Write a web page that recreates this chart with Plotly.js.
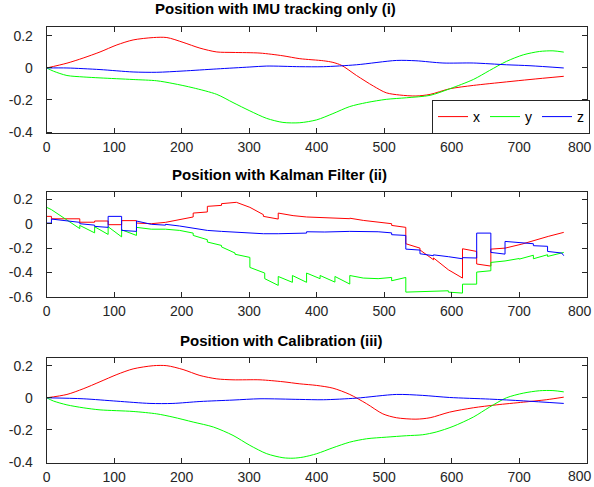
<!DOCTYPE html>
<html>
<head>
<meta charset="utf-8">
<script src="https://cdn.plot.ly/plotly-3.0.1.min.js"></script>
<style>html,body{margin:0;padding:0;background:#fff;}#chart{width:594px;height:487px;}</style>
</head>
<body>
<div id="chart"></div>
<script>
// ---------- Data ----------
const panelTitles = ["Position with IMU tracking only (i)", "Position with Kalman Filter (ii)", "Position with Calibration (iii)"];
const seriesNames = ["x", "y", "z"];
const xTickVals = [0, 100, 200, 300, 400, 500, 600, 700, 800];
const xTickText = ["0", "100", "200", "300", "400", "500", "600", "700", "800"];
const yTickVals1 = [-0.4, -0.2, 0, 0.2];
const yTickText1 = ["-0.4", "-0.2", "0", "0.2"];
const yTickVals2 = [-0.6, -0.4, -0.2, 0, 0.2];
const yTickText2 = ["-0.6", "-0.4", "-0.2", "0", "0.2"];
const yTickVals3 = [-0.4, -0.2, 0, 0.2];
const yTickText3 = ["-0.4", "-0.2", "0", "0.2"];

// (i) IMU tracking only
const imuX_t = [0,30,54,79,104,128,158,178,202,227,252,276,316,350,375,410,424,437,459,484,503,523,547,568,597,632,681,716,766];
const imuX_v = [0,0.03,0.062,0.10,0.144,0.175,0.19,0.19,0.16,0.124,0.10,0.097,0.093,0.076,0.058,0.045,0.035,0.016,-0.047,-0.113,-0.155,-0.169,-0.175,-0.165,-0.13,-0.109,-0.087,-0.072,-0.052];
const imuY_t = [0,10,30,54,79,128,163,187,217,252,276,301,326,350,375,400,424,449,474,503,533,568,597,632,656,681,706,730,750,766];
const imuY_v = [0,-0.02,-0.047,-0.056,-0.062,-0.072,-0.08,-0.097,-0.124,-0.165,-0.216,-0.268,-0.315,-0.34,-0.342,-0.324,-0.285,-0.241,-0.216,-0.196,-0.186,-0.171,-0.13,-0.072,-0.016,0.041,0.082,0.103,0.107,0.099];
const imuZ_t = [0,30,79,128,163,202,252,301,326,375,410,459,518,547,587,632,681,716,766];
const imuZ_v = [0,0,-0.01,-0.025,-0.027,-0.019,-0.006,0.006,0.012,0.008,0.008,0.02,0.047,0.045,0.031,0.031,0.02,0.014,0];

// (ii) Kalman filter
const kfX_t = [0,7,7,49,49,71,71,91,91,111,111,133,133,155,176,197,217,217,238,238,259,259,281,301,321,321,343,343,365,385,405,427,449,449,469,491,511,511,532,532,553,553,573,573,595,616,616,637,637,658,658,679,704,743,766];
const kfX_v = [0.06,0.06,0.04,0.04,0.012,0.012,0.022,0.022,-0.008,-0.008,0.025,0.025,0.005,0.0,0.011,0.035,0.055,0.087,0.096,0.142,0.15,0.164,0.175,0.134,0.074,0.06,0.038,0.087,0.066,0.055,0.052,0.046,0.041,0.045,0.027,0.014,0.0,-0.014,-0.03,-0.164,-0.2,-0.215,-0.295,-0.28,-0.377,-0.445,-0.205,-0.227,-0.33,-0.347,-0.208,-0.2,-0.167,-0.104,-0.071];
const kfY_t = [0,7,49,49,71,71,91,91,111,111,133,133,155,176,197,217,217,238,238,259,259,279,279,301,301,323,323,343,343,364,364,385,385,405,405,427,427,449,449,469,491,511,511,532,532,553,573,595,595,616,616,637,637,658,658,679,700,700,721,721,742,742,766];
const kfY_v = [0.134,0.115,-0.04,-0.014,-0.075,-0.025,-0.088,-0.025,-0.108,-0.05,-0.096,-0.03,-0.045,-0.045,-0.055,-0.077,-0.096,-0.131,-0.15,-0.178,-0.19,-0.24,-0.25,-0.276,-0.358,-0.404,-0.45,-0.505,-0.432,-0.48,-0.424,-0.48,-0.404,-0.45,-0.424,-0.478,-0.432,-0.494,-0.424,-0.445,-0.45,-0.44,-0.467,-0.44,-0.56,-0.556,-0.552,-0.549,-0.56,-0.568,-0.495,-0.495,-0.396,-0.385,-0.317,-0.305,-0.285,-0.29,-0.258,-0.287,-0.254,-0.268,-0.235];
const kfZ_t = [0,7,7,49,49,71,71,91,91,111,111,133,133,155,155,176,176,197,217,238,259,281,301,321,343,365,385,385,412,449,491,511,511,532,532,553,553,573,573,595,616,616,637,637,658,658,679,679,721,721,742,742,763,766];
const kfZ_v = [0.005,0.005,0.038,0.011,0.0,-0.012,-0.022,-0.03,0.06,0.06,-0.055,-0.063,0.022,0.0,-0.005,-0.012,-0.005,-0.019,-0.036,-0.055,-0.063,-0.071,-0.077,-0.082,-0.082,-0.077,-0.077,-0.066,-0.068,-0.063,-0.066,-0.075,-0.09,-0.096,-0.208,-0.216,-0.246,-0.262,-0.255,-0.27,-0.287,-0.278,-0.281,-0.077,-0.077,-0.235,-0.249,-0.145,-0.164,-0.18,-0.185,-0.227,-0.24,-0.262];

// (iii) Calibration
const calX_t = [0,30,54,79,104,128,158,178,202,227,252,276,316,350,375,400,424,449,474,498,518,547,568,597,632,666,706,740,766];
const calX_v = [0,0.021,0.056,0.10,0.145,0.18,0.2,0.2,0.176,0.139,0.118,0.112,0.112,0.1,0.087,0.077,0.06,0.021,-0.037,-0.1,-0.124,-0.133,-0.124,-0.089,-0.062,-0.044,-0.027,-0.012,0.004];
const calY_t = [0,10,30,54,79,128,163,187,217,247,276,301,326,350,365,380,400,424,449,474,503,533,557,577,602,632,656,681,706,730,750,766];
const calY_v = [0,-0.02,-0.044,-0.062,-0.075,-0.085,-0.1,-0.12,-0.151,-0.182,-0.234,-0.296,-0.348,-0.373,-0.376,-0.369,-0.348,-0.311,-0.276,-0.255,-0.245,-0.236,-0.23,-0.213,-0.178,-0.12,-0.058,0,0.029,0.044,0.045,0.037];
const calZ_t = [0,54,104,153,187,227,276,316,375,410,459,518,557,597,656,706,766];
const calZ_v = [0,-0.006,-0.021,-0.035,-0.035,-0.023,-0.014,-0.006,-0.01,-0.012,-0.002,0.021,0.015,0.002,-0.008,-0.019,-0.035];

// ---------- Styles ----------
const colors = ["#ff0000", "#00ff00", "#0000ff"];
const W = 594, H = 487;
const xDom = [46.7 / W, 586.7 / W];
const doms = [[1 - 133.3 / H, 1 - 27.3 / H], [1 - 297 / H, 1 - 192.3 / H], [1 - 462.7 / H, 1 - 358.3 / H]];
const yRanges = [[-0.408, 0.254], [-0.6, 0.257], [-0.404, 0.246]];

const panels = [
  [[imuX_t, imuX_v], [imuY_t, imuY_v], [imuZ_t, imuZ_v]],
  [[kfX_t, kfX_v], [kfY_t, kfY_v], [kfZ_t, kfZ_v]],
  [[calX_t, calX_v], [calY_t, calY_v], [calZ_t, calZ_v]]
];
const shapes = ["spline", "linear", "spline"];

const traces = [];
panels.forEach((p, i) => {
  p.forEach((s, j) => {
    traces.push({
      x: s[0], y: s[1], type: "scatter", mode: "lines",
      name: seriesNames[j],
      showlegend: i === 0,
      line: { color: colors[j], width: 1, shape: shapes[i], smoothing: 0.8 },
      xaxis: i === 0 ? "x" : "x" + (i + 1),
      yaxis: i === 0 ? "y" : "y" + (i + 1)
    });
  });
});

const fam = "Liberation Sans, Arial, sans-serif";
const font = { family: fam, size: 14, color: "#262626" };
// last x tick label (at the right edge) is drawn as a right-aligned annotation so it stays inside the page
const lastIdx = xTickText.length - 1;
const xTickTextAxis = xTickText.map((t, k) => k === lastIdx ? "" : t);

function xAxis(anchor) {
  return {
    domain: xDom, anchor: anchor, range: [0, 800],
    tickmode: "array", tickvals: xTickVals, ticktext: xTickTextAxis,
    ticks: "inside", ticklen: 5, tickcolor: "#262626", tickwidth: 1,
    showline: true, linecolor: "#262626", linewidth: 1, mirror: "ticks",
    showgrid: false, zeroline: false, tickfont: font, ticklabelstandoff: 1,
    automargin: false
  };
}
function yAxis(anchor, dom, rng, tv, tt) {
  return {
    domain: dom, anchor: anchor, range: rng,
    tickmode: "array", tickvals: tv, ticktext: tt,
    ticks: "inside", ticklen: 5, tickcolor: "#262626", tickwidth: 1,
    showline: true, linecolor: "#262626", linewidth: 1, mirror: "ticks",
    showgrid: false, zeroline: false, tickfont: font, ticklabelstandoff: 10,
    automargin: false
  };
}

const titleY = [1 - 8.5 / H, 1 - 174 / H, 1 - 340 / H];
const titleX = [275 / W, 279 / W, 281.5 / W];
const annotations = panelTitles.map((t, i) => ({
  text: "<b>" + t + "</b>", x: titleX[i], y: titleY[i], xref: "paper", yref: "paper",
  xanchor: "center", yanchor: "middle", showarrow: false,
  font: { family: fam, size: 15, color: "#000000" }
}));
const lastLabelY = [1 - 147 / H, 1 - 311 / H, 1 - 476.4 / H];
lastLabelY.forEach(y => annotations.push({
  text: xTickText[lastIdx], x: 1, y: y, xref: "paper", yref: "paper",
  xanchor: "right", yanchor: "middle", showarrow: false, font: font
}));

const layout = {
  width: W, height: H,
  margin: { l: 0, r: 0, t: 0, b: 0 },
  paper_bgcolor: "#ffffff", plot_bgcolor: "#ffffff",
  font: font,
  showlegend: true,
  legend: {
    x: 432 / W, y: 1 - 100 / H, xanchor: "left", yanchor: "top",
    orientation: "h", bgcolor: "#ffffff", bordercolor: "#262626", borderwidth: 1,
    font: { family: fam, size: 14, color: "#000000" },
    itemwidth: 30, tracegroupgap: 0
  },
  xaxis: xAxis("y"), yaxis: yAxis("x", doms[0], yRanges[0], yTickVals1, yTickText1),
  xaxis2: xAxis("y2"), yaxis2: yAxis("x2", doms[1], yRanges[1], yTickVals2, yTickText2),
  xaxis3: xAxis("y3"), yaxis3: yAxis("x3", doms[2], yRanges[2], yTickVals3, yTickText3),
  annotations: annotations
};

Plotly.newPlot("chart", traces, layout, { staticPlot: true, displayModeBar: false });
</script>
</body>
</html>
